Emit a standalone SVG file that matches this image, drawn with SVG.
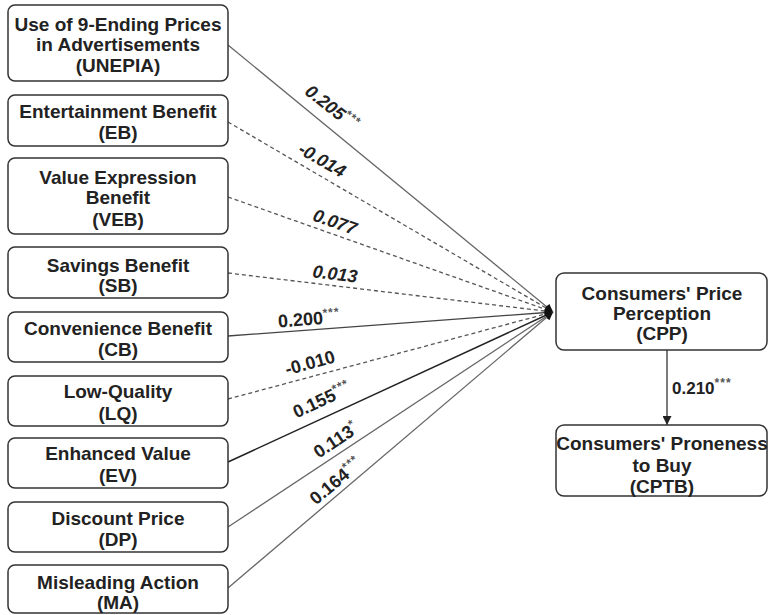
<svg xmlns="http://www.w3.org/2000/svg" width="769" height="615" viewBox="0 0 769 615">
<defs>
<style>
.box{fill:#fff;stroke:#333;stroke-width:1.5}
.t{font-family:"Liberation Sans",Arial,sans-serif;font-weight:bold;font-size:19px;fill:#222;text-anchor:middle}
.l{font-family:"Liberation Sans",Arial,sans-serif;font-weight:bold;font-size:18px;fill:#222;text-anchor:middle}
.it{font-style:italic}
.s{font-size:12px;fill:#555;letter-spacing:1px}
.e{fill:none;stroke:#666;stroke-width:1.3}
.d{stroke-dasharray:4 3;stroke:#555}
.k{stroke:#222;stroke-width:1.5}
</style>
<marker id="ah" viewBox="0 0 10 10" refX="10" refY="5" markerWidth="9" markerHeight="8" markerUnits="userSpaceOnUse" orient="auto">
<path d="M0,0 L10,5 L0,10 Z" fill="#111"/>
</marker>
<marker id="ah2" viewBox="0 0 10 10" refX="10" refY="5" markerWidth="10" markerHeight="9" markerUnits="userSpaceOnUse" orient="auto">
<path d="M0,0 L10,5 L0,10 Z" fill="#222"/>
</marker>
</defs>
<rect width="769" height="615" fill="#fff"/>
<g id="connectors">
<line class="e" x1="228" y1="45" x2="553" y2="312" marker-end="url(#ah)"/>
<line class="e d" x1="228" y1="122" x2="553" y2="312" marker-end="url(#ah)"/>
<line class="e d" x1="228" y1="197" x2="553" y2="312" marker-end="url(#ah)"/>
<line class="e d" x1="228" y1="273" x2="553" y2="312" marker-end="url(#ah)"/>
<line class="e" style="stroke:#444" x1="228" y1="336" x2="553" y2="312" marker-end="url(#ah)"/>
<line class="e d" x1="228" y1="399" x2="553" y2="312" marker-end="url(#ah)"/>
<line class="e k" x1="228" y1="462" x2="553" y2="312" marker-end="url(#ah)"/>
<line class="e" x1="228" y1="527" x2="553" y2="312" marker-end="url(#ah)"/>
<line class="e" x1="228" y1="588" x2="553" y2="312" marker-end="url(#ah)"/>
<line class="e" style="stroke:#333" x1="667" y1="350" x2="667" y2="425" marker-end="url(#ah2)"/>
<text class="l it" transform="translate(332,108) rotate(38)" y="6">0.205<tspan class="s" dy="-7">***</tspan></text>
<text class="l it" transform="translate(322,160) rotate(30)" y="6">-0.014</text>
<text class="l it" transform="translate(335,222) rotate(19.5)" y="6">0.077</text>
<text class="l it" transform="translate(335,274) rotate(7)" y="6">0.013</text>
<text class="l" transform="translate(309,319) rotate(-4.6)" y="6">0.200<tspan class="s" dy="-7">***</tspan></text>
<text class="l" transform="translate(310,363) rotate(-15.5)" y="6">-0.010</text>
<text class="l" transform="translate(322,400) rotate(-25)" y="6">0.155<tspan class="s" dy="-7">***</tspan></text>
<text class="l" transform="translate(336,440) rotate(-33.7)" y="6">0.113<tspan class="s" dy="-7">*</tspan></text>
<text class="l" transform="translate(336,481) rotate(-40)" y="6">0.164<tspan class="s" dy="-7">***</tspan></text>
<text class="l" style="font-size:17px;text-anchor:start" x="672" y="394">0.210<tspan class="s" dy="-7">***</tspan></text>
</g>
<g id="UNEPIA"><rect class="box" x="8" y="5" width="220" height="76" rx="7"/>
<text class="t" x="118" y="31">Use of 9-Ending Prices</text><text class="t" x="118" y="51">in Advertisements</text><text class="t" x="118" y="72">(UNEPIA)</text></g>
<g id="EB"><rect class="box" x="8" y="95" width="220" height="51" rx="7"/>
<text class="t" x="118" y="118">Entertainment Benefit</text><text class="t" x="118" y="139">(EB)</text></g>
<g id="VEB"><rect class="box" x="8" y="158" width="220" height="76" rx="7"/>
<text class="t" x="118" y="184">Value Expression</text><text class="t" x="118" y="204">Benefit</text><text class="t" x="118" y="226">(VEB)</text></g>
<g id="SB"><rect class="box" x="8" y="247" width="220" height="51" rx="7"/>
<text class="t" x="118" y="272">Savings Benefit</text><text class="t" x="118" y="292">(SB)</text></g>
<g id="CB"><rect class="box" x="8" y="312" width="220" height="50" rx="7"/>
<text class="t" x="118" y="335">Convenience Benefit</text><text class="t" x="118" y="356">(CB)</text></g>
<g id="LQ"><rect class="box" x="8" y="376" width="220" height="50" rx="7"/>
<text class="t" x="118" y="398">Low-Quality</text><text class="t" x="118" y="420">(LQ)</text></g>
<g id="EV"><rect class="box" x="8" y="438" width="220" height="50" rx="7"/>
<text class="t" x="118" y="460">Enhanced Value</text><text class="t" x="118" y="482">(EV)</text></g>
<g id="DP"><rect class="box" x="8" y="502" width="220" height="50" rx="7"/>
<text class="t" x="118" y="525">Discount Price</text><text class="t" x="118" y="546">(DP)</text></g>
<g id="MA"><rect class="box" x="8" y="565" width="220" height="48" rx="7"/>
<text class="t" x="118" y="589">Misleading Action</text><text class="t" x="118" y="609">(MA)</text></g>
<g id="CPP"><rect class="box" x="556" y="273" width="211" height="77" rx="8"/>
<text class="t" x="662" y="300">Consumers' Price</text><text class="t" x="662" y="320">Perception</text><text class="t" x="662" y="340">(CPP)</text></g>
<g id="CPTB"><rect class="box" x="556" y="425" width="211" height="71" rx="8"/>
<text class="t" x="662" y="450">Consumers' Proneness</text><text class="t" x="662" y="472">to Buy</text><text class="t" x="662" y="493">(CPTB)</text></g>
</svg>
